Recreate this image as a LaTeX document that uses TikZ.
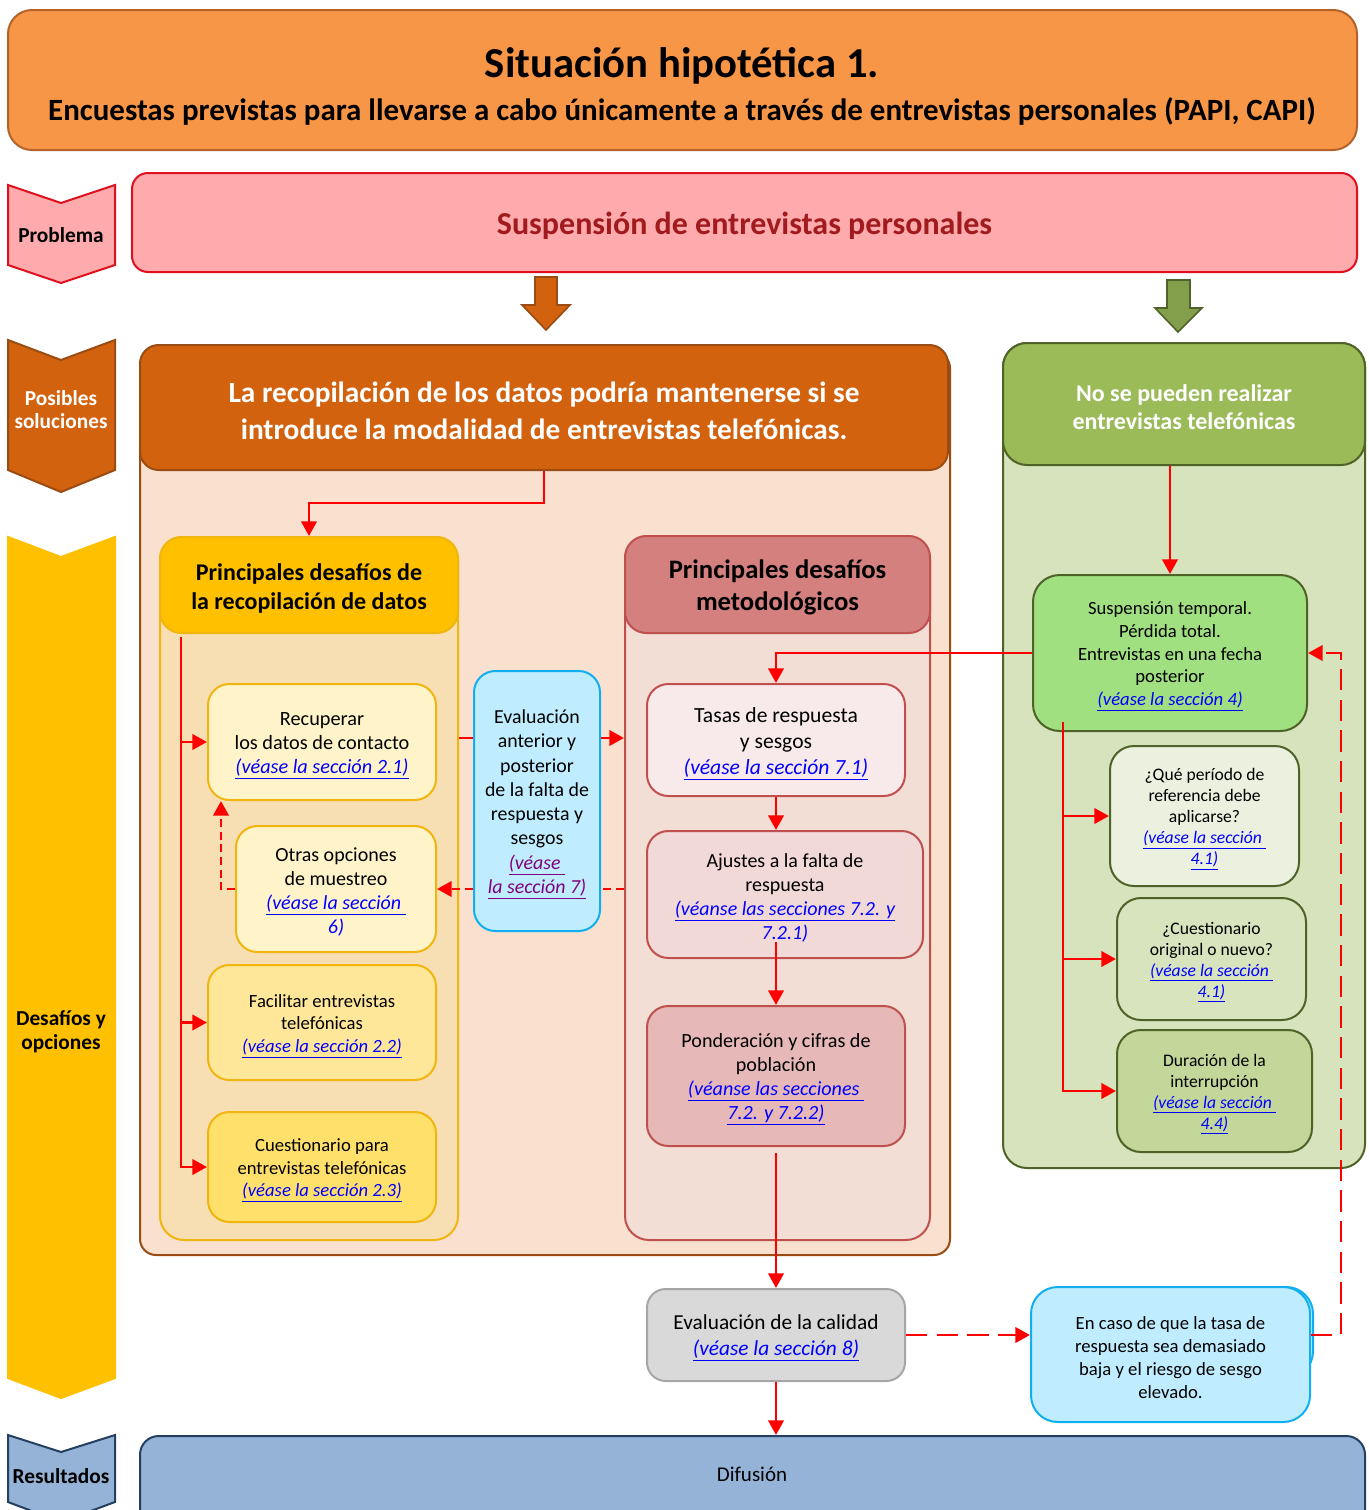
\documentclass[tikz,border=0pt]{standalone}
\usepackage{fontspec}
\setmainfont{Carlito}
\usetikzlibrary{fit,arrows.meta}
\definecolor{titlefill}{HTML}{F79646}
\definecolor{titlebord}{HTML}{B5622A}
\definecolor{probfill}{HTML}{FFABAD}
\definecolor{probbord}{HTML}{E0101E}
\definecolor{probtext}{HTML}{A01A1E}
\definecolor{darkor}{HTML}{D3620F}
\definecolor{orbord}{HTML}{9A4C12}
\definecolor{orcont}{HTML}{F9E0CF}
\definecolor{yelhead}{HTML}{FFC000}
\definecolor{yelcont}{HTML}{F8DFB3}
\definecolor{yelbord}{HTML}{F0B50E}
\definecolor{recfill}{HTML}{FFF3CA}
\definecolor{facfill}{HTML}{FFE799}
\definecolor{cuefill}{HTML}{FFE06A}
\definecolor{pkhead}{HTML}{D4807F}
\definecolor{pkcont}{HTML}{F3DED6}
\definecolor{pkbord}{HTML}{C0504D}
\definecolor{tasfill}{HTML}{F8EAEA}
\definecolor{ajufill}{HTML}{F1D9D8}
\definecolor{ponfill}{HTML}{E6B9B8}
\definecolor{bluefill}{HTML}{BFEDFF}
\definecolor{bluebord}{HTML}{10B0F0}
\definecolor{grhead}{HTML}{9BBB59}
\definecolor{grcont}{HTML}{D6E3BC}
\definecolor{grbord}{HTML}{4F6228}
\definecolor{susfill}{HTML}{A0E080}
\definecolor{quefill}{HTML}{EBF1DE}
\definecolor{cstfill}{HTML}{D7E4BD}
\definecolor{durfill}{HTML}{C4D79B}
\definecolor{calfill}{HTML}{D9D9D9}
\definecolor{calbord}{HTML}{A6A6A6}
\definecolor{diffill}{HTML}{95B3D7}
\definecolor{difbord}{HTML}{243F60}
\definecolor{linkblue}{HTML}{0000FF}
\definecolor{linkpurple}{HTML}{800080}
\newcommand{\fsz}[2]{\fontsize{#1}{#2}\selectfont}
\newcommand{\lnk}[1]{{\color{linkblue}\itshape\underline{#1}}}
\newcommand{\lnkn}[1]{{\color{linkblue}\itshape #1}}
\newcommand{\lnkp}[1]{{\color{linkpurple}\itshape\underline{#1}}}
\newcommand{\bx}[4]{\node[inner sep=0pt, fit={(#2)(#3)}, #4] (#1) {};}
\tikzset{
  conn/.style={draw=red, line width=2.2pt, -{Triangle[width=11.5pt,length=11pt]}},
  ln/.style={draw=red, line width=2.2pt},
  dconn/.style={conn, dash pattern=on 6pt off 3.5pt},
  dln/.style={ln, dash pattern=on 6pt off 3.5pt},
  ldconn/.style={conn, dash pattern=on 16pt off 7pt},
  ldln/.style={ln, dash pattern=on 16pt off 7pt},
  txt/.style={align=center, inner sep=0pt, yshift=-2.5pt},
  lab/.style={align=center, inner sep=0pt},
  chev/.style={line width=1.5pt, line join=miter},
}
\begin{document}
\begin{tikzpicture}[x=0.75pt,y=-0.75pt]
\useasboundingbox (0,0) rectangle (1369,1510);
% title
\bx{title}{8,10}{1357,150}{fill=titlefill, draw=titlebord, line width=1.5pt, rounded corners=18pt}
\node[txt, font=\bfseries\fsz{32}{36}] (title-t) at (682,63) {Situación hipotética 1.};
\node[txt, font=\bfseries\fsz{23.2}{27}] (sub-t) at (682,108) {Encuestas previstas para llevarse a cabo únicamente a través de entrevistas personales (PAPI, CAPI)};
% left chevrons
\draw[chev, fill=probfill, draw=probbord] (8,185) -- (61,203) -- (115,185) -- (115,265) -- (61,283) -- (8,265) -- cycle;
\node[lab, font=\bfseries\fsz{16}{17}] (lab1) at (61,235) {Problema};
\draw[chev, fill=darkor, draw=orbord] (8,340) -- (61,360) -- (115,340) -- (115,470) -- (61,492) -- (8,470) -- cycle;
\node[lab, font=\bfseries\fsz{16}{17.25}, text=white] (lab2) at (61,410) {Posibles\\soluciones};
\draw[chev, fill=yelhead, draw=yelhead] (8,537) -- (61,557) -- (115,537) -- (115,1378) -- (61,1398) -- (8,1378) -- cycle;
\node[lab, font=\bfseries\fsz{16}{18}] (lab3) at (61,1032) {Desafíos y\\opciones};
\draw[chev, fill=diffill, draw=difbord] (8,1435) -- (61,1452) -- (115,1435) -- (115,1502) -- (61,1522) -- (8,1502) -- cycle;
\node[lab, font=\bfseries\fsz{16}{17}] (lab4) at (61,1476) {Resultados};
% problem
\bx{prob}{132,173}{1357,272}{fill=probfill, draw=probbord, line width=1.5pt, rounded corners=12pt}
\node[txt, font=\bfseries\fsz{24}{28}, text=probtext] (prob-t) at (prob) {Suspensión de entrevistas personales};
% block arrows
\draw[fill=darkor, draw=orbord, line width=1.2pt] (535,277) -- (557,277) -- (557,305) -- (570,305) -- (546,330) -- (522,305) -- (535,305) -- cycle;
\draw[fill=grhead!85!black, draw=grbord, line width=1.2pt] (1167,280) -- (1190,280) -- (1190,308) -- (1202,308) -- (1178,332) -- (1155,308) -- (1167,308) -- cycle;
% orange container
\bx{ocont}{140,352}{950,1255}{fill=orcont, draw=orbord, line width=1.5pt, rounded corners=12pt}
\bx{orhead}{140,345}{948,470}{fill=darkor, draw=orbord, line width=1.5pt, rounded corners=14pt}
\node[txt, font=\bfseries\fsz{22}{27.75}, text=white] (orhead-t) at (orhead) {La recopilación de los datos podría mantenerse si se\\introduce la modalidad de entrevistas telefónicas.};
% green container
\bx{gcont}{1003,343}{1365,1168}{fill=grcont, draw=grbord, line width=1.5pt, rounded corners=18pt}
\bx{ghead}{1003,343}{1365,465}{fill=grhead, draw=grbord, line width=1.5pt, rounded corners=18pt}
\node[txt, font=\bfseries\fsz{18}{21}, text=white] (ghead-t) at (ghead) {No se pueden realizar\\entrevistas telefónicas};
% yellow sub container
\bx{ycont}{160,537}{458,1240}{fill=yelcont, draw=yelbord, line width=1.5pt, rounded corners=18pt}
\bx{yhead}{160,537}{458,633}{fill=yelhead, draw=yelbord, line width=1.5pt, rounded corners=16pt}
\node[txt, font=\bfseries\fsz{18}{21.75}] (yhead-t) at (yhead) {Principales desafíos de\\la recopilación de datos};
% pink sub container
\bx{pcont}{625,536}{930,1240}{fill=pkcont, draw=pkbord, line width=1.5pt, rounded corners=18pt}
\bx{phead}{625,536}{930,633}{fill=pkhead, draw=pkbord, line width=1.5pt, rounded corners=16pt}
\node[txt, font=\bfseries\fsz{20}{24}] (phead-t) at (phead) {Principales desafíos\\metodológicos};
% yellow boxes
\bx{rec}{208,684}{436,800}{fill=recfill, draw=yelbord, line width=1.5pt, rounded corners=16pt}
\node[txt, font=\fsz{15.2}{18}] (rec-t) at (rec) {Recuperar\\los datos de contacto\\\lnk{(véase la sección 2.1)}};
\bx{otr}{236,826}{436,952}{fill=recfill, draw=yelbord, line width=1.5pt, rounded corners=16pt}
\node[txt, font=\fsz{15}{18}] (otr-t) at (otr) {Otras opciones\\de muestreo\\\lnk{(véase la sección }\\\lnkn{6)}};
\bx{fac}{208,965}{436,1080}{fill=facfill, draw=yelbord, line width=1.5pt, rounded corners=16pt}
\node[txt, font=\fsz{14}{17}] (fac-t) at (fac) {Facilitar entrevistas\\telefónicas\\\lnk{(véase la sección 2.2)}};
\bx{cue}{208,1112}{436,1222}{fill=cuefill, draw=yelbord, line width=1.5pt, rounded corners=16pt}
\node[txt, font=\fsz{14}{17}] (cue-t) at (cue) {Cuestionario para\\entrevistas telefónicas\\\lnk{(véase la sección 2.3)}};
% blue box
\bx{eval}{474,671}{600,931}{fill=bluefill, draw=bluebord, line width=1.5pt, rounded corners=16pt}
\node[txt, font=\fsz{14.9}{18.2}] (eval-t) at (eval) {Evaluación\\anterior y\\posterior\\de la falta de\\respuesta y\\sesgos\\\lnkp{(véase }\\\lnkp{la sección 7)}};
% pink boxes
\bx{tas}{647,684}{905,796}{fill=tasfill, draw=pkbord, line width=1.5pt, rounded corners=16pt}
\node[txt, font=\fsz{16.2}{19.5}] (tas-t) at (tas) {Tasas de respuesta\\y sesgos\\\lnk{(véase la sección 7.1)}};
\bx{aju}{647,831}{923,958}{fill=ajufill, draw=pkbord, line width=1.5pt, rounded corners=16pt}
\node[txt, font=\fsz{15}{18}] (aju-t) at (aju) {Ajustes a la falta de\\respuesta\\\lnk{(véanse las secciones 7.2. y}\\\lnkn{7.2.1)}};
\bx{pon}{647,1006}{905,1146}{fill=ponfill, draw=pkbord, line width=1.5pt, rounded corners=16pt}
\node[txt, font=\fsz{15.1}{18}] (pon-t) at (pon) {Ponderación y cifras de\\población\\\lnk{(véanse las secciones }\\\lnk{7.2. y 7.2.2)}};
% green boxes
\bx{susp}{1033,575}{1307,731}{fill=susfill, draw=grbord, line width=1.5pt, rounded corners=20pt}
\node[txt, font=\fsz{14}{17}] (susp-t) at (susp) {Suspensión temporal.\\Pérdida total.\\Entrevistas en una fecha\\posterior\\\lnk{(véase la sección 4)}};
\bx{que}{1110,746}{1299,886}{fill=quefill, draw=grbord, line width=1.5pt, rounded corners=18pt}
\node[txt, font=\fsz{13.2}{15.75}] (que-t) at (que) {¿Qué período de\\referencia debe\\aplicarse?\\\lnk{(véase la sección }\\\lnk{4.1)}};
\bx{cst}{1117,898}{1306,1020}{fill=cstfill, draw=grbord, line width=1.5pt, rounded corners=18pt}
\node[txt, font=\fsz{13.2}{15.75}] (cst-t) at (cst) {¿Cuestionario\\original o nuevo?\\\lnk{(véase la sección }\\\lnk{4.1)}};
\bx{dur}{1117,1030}{1312,1152}{fill=durfill, draw=grbord, line width=1.5pt, rounded corners=18pt}
\node[txt, font=\fsz{13.2}{15.75}] (dur-t) at (dur) {Duración de la\\interrupción\\\lnk{(véase la sección }\\\lnk{4.4)}};
% bottom
\bx{cal}{647,1289}{905,1381}{fill=calfill, draw=calbord, line width=1.5pt, rounded corners=14pt}
\node[txt, font=\fsz{16}{19.5}] (cal-t) at (cal) {Evaluación de la calidad\\\lnk{(véase la sección 8)}};
\bx{casoshadow}{1036,1287}{1313,1378}{fill=bluefill, draw=bluebord, line width=1.5pt, rounded corners=20pt}
\bx{caso}{1031,1287}{1310,1422}{fill=bluefill, draw=bluebord, line width=1.5pt, rounded corners=20pt}
\node[txt, font=\fsz{14}{17.25}] (caso-t) at (caso) {En caso de que la tasa de\\respuesta sea demasiado\\baja y el riesgo de sesgo\\elevado.};
\bx{dif}{140,1436}{1365,1530}{fill=diffill, draw=difbord, line width=1.5pt, rounded corners=14pt}
\node[lab, font=\fsz{15.75}{17}] (dif-t) at (752,1474) {Difusión};
% connectors
\draw[conn] (orhead.south) |- ++(0,32) -| (yhead.north);
\coordinate (ytop) at (181,637);
\draw[conn] (ytop) |- (rec.west);
\draw[conn] (ytop) |- (fac.west);
\draw[conn] (ytop) |- (cue.west);
\draw[dconn] (otr.west) -| ([xshift=10.5pt]rec.south west);
\draw[dln] (pcont.west |- otr.east) -- (eval.east |- otr.east);
\draw[dconn] (eval.west |- otr.east) -- (otr.east);
\coordinate (sy) at (0,738);
\draw[ln] (ycont.east |- sy) -- (eval.west |- sy);
\draw[conn] (eval.east |- sy) -- (pcont.west |- sy);
\draw[conn] (susp.west) -| (tas.north);
\draw[conn] (tas.south) -- (tas.south |- aju.north);
\draw[conn] ([yshift=13pt]aju.south -| pon.north) -- (pon.north);
\draw[conn] ([yshift=-4.5pt]pon.south) -- (cal.north);
\draw[conn] (cal.south) -- (dif.north -| cal.south);
\draw[ldconn] (cal.east) -- (caso.west |- cal.east);
\draw[ldconn] (caso.east |- cal.east) -- ++(30,0) |- (susp.east);
\draw[conn] (susp.north |- ghead.south) -- (susp.north);
\coordinate (gtop) at (1063,722);
\draw[conn] (gtop) |- (que.west);
\draw[conn] (gtop) |- (cst.west);
\draw[conn] (gtop) |- (dur.west);
\end{tikzpicture}
\end{document}
